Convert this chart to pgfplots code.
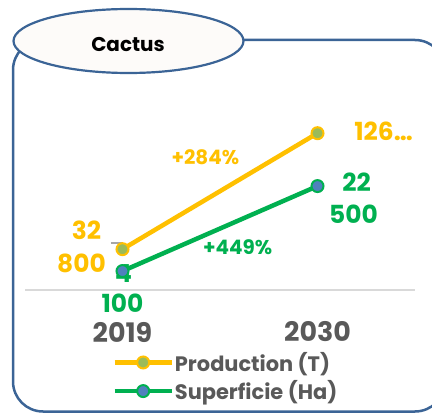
\documentclass[border=0pt]{standalone}
\usepackage{fontspec}
\setmainfont{Poppins}
\usepackage{pgfplots}
\pgfplotsset{compat=1.18}
\definecolor{orng}{HTML}{FFC000}
\definecolor{grn}{HTML}{00B050}
\definecolor{olv}{HTML}{9BBB59}
\definecolor{blu}{HTML}{4F81BD}
\definecolor{framec}{HTML}{3B6496}
\definecolor{txtgray}{HTML}{595959}
\definecolor{axgray}{HTML}{D9D9D9}
\begin{document}
\begin{tikzpicture}[x=1bp,y=1bp]
\useasboundingbox (0,0) rectangle (432,413);
\begin{scope}
\clip (0,0) rectangle (432,413);
\draw[framec, line width=2.5bp, rounded corners=30bp] (13,1.5) rectangle (445,373);
\end{scope}
\draw[framec, line width=2.2bp, fill=white!97!brown] (128.5,372) ellipse [x radius=115, y radius=32];
\node[font=\bfseries\fontsize{20}{24}\selectfont] at (128,368) {Cactus};

\begin{axis}[at={(25bp,123bp)}, anchor=south west, scale only axis,
  width=390bp, height=200bp, xmin=-0.5, xmax=1.5, ymin=0, ymax=160700,
  axis x line=bottom, axis y line=none,
  x axis line style={axgray, line width=1.5bp, -},
  xtick={0,1}, xticklabels={2019,2030}, major tick length=0,
  xticklabel style={font=\bfseries\fontsize{27}{32}\selectfont, text=txtgray, anchor=center, yshift=-42bp},
  clip=false,
  legend style={at={(axis description cs:0.216,-0.295)}, anchor=north west, draw=none, fill=none,
    font=\bfseries\fontsize{21}{25}\selectfont, text=txtgray, row sep=6bp,
    nodes={inner sep=1bp}},
  legend cell align=left,
  legend image code/.code={\draw[mark repeat=2,mark phase=2,#1] plot coordinates {(0bp,0bp) (28.5bp,0bp) (57bp,0bp)};},
]
\draw[gray!70, line width=1.5bp] (axis cs:0,32800) ++(-12bp,6bp) -- ++(12bp,0bp) -- ++(0bp,-4bp);
\addplot[orng, line width=4.5bp, mark=*, mark size=6bp, mark options={fill=olv, draw=orng, line width=2bp}] coordinates {(0,32800) (1,126000)};
\addlegendentry{Production (T)}
\addlegendimage{grn, line width=4.5bp, mark=*, mark size=6bp, mark options={fill=blu, draw=grn, line width=2bp}}
\addlegendentry{Superficie (Ha)}
\begin{scope}[font=\bfseries\fontsize{25}{30}\selectfont, text=orng]
\node at (axis cs:0,32800) [xshift=-36bp, yshift=19bp] {32};
\node at (axis cs:0,32800) [xshift=-41bp, yshift=-14bp] {800};
\node at (axis cs:1,126000) [xshift=66bp, yshift=2bp] {126…};
\end{scope}
\node[font=\bfseries\fontsize{20}{24}\selectfont, text=orng] at (axis cs:0.425,106600) {+284\%};
\end{axis}

\begin{axis}[at={(25bp,123bp)}, anchor=south west, scale only axis,
  width=390bp, height=200bp, xmin=-0.5, xmax=1.5, ymin=0, ymax=43300,
  hide axis, clip=false]
\addplot[grn, line width=4.5bp, mark=*, mark size=6bp, mark options={fill=blu, draw=grn, line width=2bp}] coordinates {(0,4100) (1,22500)};
\begin{scope}[font=\bfseries\fontsize{25}{30}\selectfont, text=grn]
\node at (axis cs:0,4100) [xshift=1bp, yshift=-2bp] {4};
\node at (axis cs:0,4100) [yshift=-32bp] {100};
\node at (axis cs:1,22500) [xshift=39bp, yshift=4bp] {22};
\node at (axis cs:1,22500) [xshift=36bp, yshift=-28bp] {500};
\end{scope}
\node[font=\bfseries\fontsize{20}{24}\selectfont, text=grn] at (axis cs:0.59,9300) {+449\%};
\end{axis}
\end{tikzpicture}
\end{document}
